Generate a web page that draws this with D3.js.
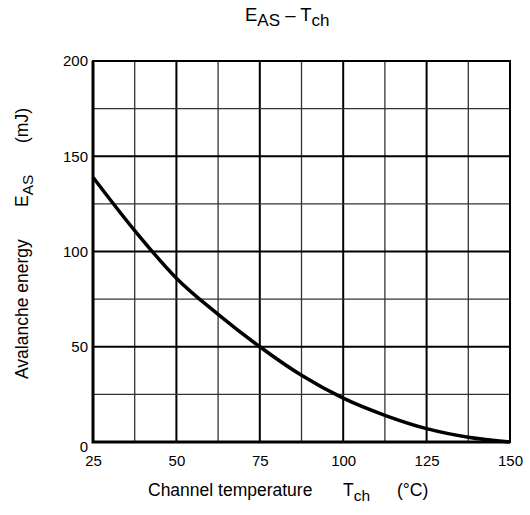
<!DOCTYPE html>
<html>
<head>
<meta charset="utf-8">
<script src="https://cdn.jsdelivr.net/npm/d3@7"></script>
<style>
  body { margin: 0; background: #fff; }
  svg text { font-family: "Liberation Sans", Arial, sans-serif; fill: #000; }
</style>
</head>
<body>
<div id="chart"></div>
<script>
// channel temperature (°C) and avalanche energy (mJ)
let temps = [25, 37.5, 50, 62.5, 75, 87.5, 100, 112.5, 125, 137.5, 150];
let energy = [139, 111, 86, 67, 50, 35, 23, 14, 7, 2.5, 0];
let xTicks = [25, 50, 75, 100, 125, 150];
let yTicks = [0, 50, 100, 150, 200];
let xGrid = [37.5, 50, 62.5, 75, 87.5, 100, 112.5, 125, 137.5];
let yGrid = [25, 50, 75, 100, 125, 150, 175];

let drawChart = function() {
    let width = 530, height = 515;
    let margin = {top: 61, right: 20, bottom: 73, left: 93};
    let w = width - margin.left - margin.right;
    let h = height - margin.top - margin.bottom;

    let svg = d3.select('#chart').append('svg')
        .attr('width', width)
        .attr('height', height);
    let g = svg.append('g')
        .attr('transform', 'translate(' + margin.left + ',' + margin.top + ')');

    let x = d3.scaleLinear().domain([25, 150]).range([0, w]);
    let y = d3.scaleLinear().domain([0, 200]).range([h, 0]);

    // grid - lines on tick values are heavier
    g.selectAll('.vgrid').data(xGrid).enter().append('line')
        .attr('x1', d => x(d)).attr('x2', d => x(d))
        .attr('y1', 0).attr('y2', h)
        .attr('stroke', d => xTicks.includes(d) ? '#000' : '#333')
        .attr('stroke-width', d => xTicks.includes(d) ? 2 : 1.3);
    g.selectAll('.hgrid').data(yGrid).enter().append('line')
        .attr('y1', d => y(d)).attr('y2', d => y(d))
        .attr('x1', 0).attr('x2', w)
        .attr('stroke', d => yTicks.includes(d) ? '#000' : '#333')
        .attr('stroke-width', d => yTicks.includes(d) ? 2 : 1.3);

    // frame
    g.append('rect')
        .attr('x', 0).attr('y', 0).attr('width', w).attr('height', h)
        .attr('fill', 'none').attr('stroke', '#000').attr('stroke-width', 2);
    g.append('path')
        .attr('d', 'M0,0V' + h + 'H' + w)
        .attr('fill', 'none').attr('stroke', '#000').attr('stroke-width', 3);

    // axes (labels only)
    let xAxis = g.append('g')
        .attr('transform', 'translate(0,' + h + ')')
        .call(d3.axisBottom(x).tickValues(xTicks).tickSize(0).tickPadding(13));
    let yAxis = g.append('g')
        .call(d3.axisLeft(y).tickValues(yTicks).tickSize(0).tickPadding(5));
    [xAxis, yAxis].forEach(a => {
        a.select('.domain').remove();
        a.selectAll('text').style('font-size', '15px')
            .style('font-family', '"Liberation Sans", Arial, sans-serif');
    });
    yAxis.selectAll('.tick').filter(d => d === 0).select('text').attr('dy', '0.6em');

    // curve
    let line = d3.line()
        .x((d, i) => x(temps[i]))
        .y(d => y(d))
        .curve(d3.curveMonotoneX);
    g.append('path')
        .datum(energy)
        .attr('d', line)
        .attr('fill', 'none')
        .attr('stroke', '#000')
        .attr('stroke-width', 3.5);

    // title
    let title = svg.append('text')
        .attr('x', 245).attr('y', 21)
        .style('font-size', '18.5px');
    title.append('tspan').text('E');
    title.append('tspan').text('AS').attr('dy', 5).style('font-size', '17px');
    title.append('tspan').text(' \u2013 T').attr('dy', -5);
    title.append('tspan').text('ch').attr('dy', 5).style('font-size', '17px');

    // x label
    let xl = svg.append('text')
        .attr('x', 148).attr('y', 496)
        .style('font-size', '17.5px');
    xl.append('tspan').text('Channel temperature');
    xl.append('tspan').text('T').attr('x', 343);
    xl.append('tspan').text('ch').attr('dy', 5).style('font-size', '15.5px');
    xl.append('tspan').text('(\u00b0C)').attr('x', 397).attr('dy', -5);

    // y label
    let yl = svg.append('text')
        .attr('transform', 'translate(28,0) rotate(-90)')
        .attr('x', -379).attr('y', 0)
        .style('font-size', '17.5px');
    yl.append('tspan').text('Avalanche energy');
    yl.append('tspan').text('E').attr('x', -207);
    yl.append('tspan').text('AS').attr('dy', 5).style('font-size', '15.5px');
    yl.append('tspan').text('(mJ)').attr('x', -143).attr('dy', -5);
}

drawChart();
</script>
</body>
</html>
